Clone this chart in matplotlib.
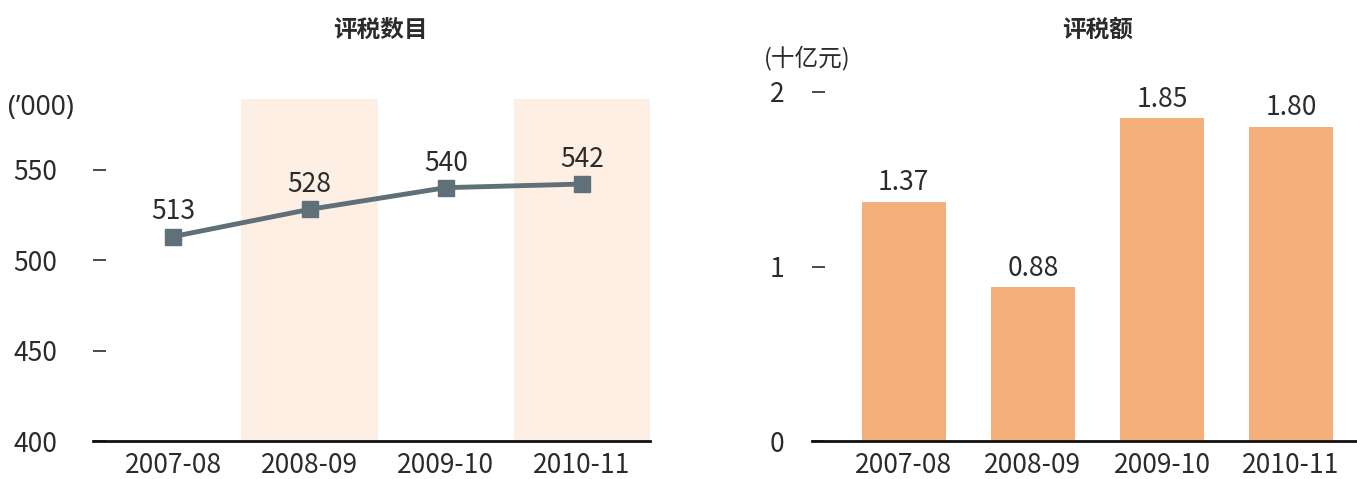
import matplotlib
matplotlib.use("Agg")
import matplotlib.pyplot as plt

plt.rcParams['font.family'] = ['Noto Sans CJK SC', 'DejaVu Sans']

# dados
anos = ["2007-08", "2008-09", "2009-10", "2010-11"]
numero = [513, 528, 540, 542]
valor = [1.37, 0.88, 1.85, 1.80]
rotulos_valor = ["1.37", "0.88", "1.85", "1.80"]
ticks_esq = [400, 450, 500, 550]
ticks_dir = [0, 1, 2]

cor_linha = "#5f7079"
cor_faixa = "#fdefe3"
cor_barra = "#f4af7b"
cor_texto = "#2b2b2b"

fig = plt.figure(figsize=(13.57, 4.79), dpi=100)
W, H = 1357, 479

# painel esquerdo
ax1 = fig.add_axes([93 / W, 38 / H, 557 / W, 342 / H])
x = list(range(len(anos)))
for i in (1, 3):
    ax1.axvspan(i - 0.5, i + 0.5, color=cor_faixa, lw=0, zorder=0)
ax1.plot(x, numero, color=cor_linha, lw=3.5, marker="s", markersize=12, zorder=3)
for xi, v in zip(x, numero):
    ax1.annotate(str(v), (xi, v), xytext=(0, 8), textcoords="offset points",
                 ha="center", va="bottom", fontsize=19, color=cor_texto)
ax1.set_xlim(-0.59, 3.5)
ax1.set_ylim(400, 589)
ax1.set_yticks(ticks_esq)
ax1.set_xticks(x)
ax1.set_xticklabels(anos)

# painel direito
ax2 = fig.add_axes([812 / W, 38 / H, 545 / W, 349 / H])
ax2.bar(x, valor, width=0.65, color=cor_barra, zorder=2)
for xi, v, r in zip(x, valor, rotulos_valor):
    ax2.annotate(r, (xi, v), xytext=(0, 4), textcoords="offset points",
                 ha="center", va="bottom", fontsize=19, color=cor_texto)
ax2.set_xlim(-0.71, 3.51)
ax2.set_ylim(0, 2.0)
ax2.set_yticks(ticks_dir)
ax2.set_xticks(x)
ax2.set_xticklabels(anos)

# titulos e unidades
fig.text(380 / W, 1 - 30 / H, "评税数目", fontsize=17, fontweight="bold",
         ha="center", va="center", color=cor_texto)
fig.text(1098 / W, 1 - 30 / H, "评税额", fontsize=17, fontweight="bold",
         ha="center", va="center", color=cor_texto)
fig.text(8 / W, 1 - 108 / H, "(’000)", fontsize=19, family=["Noto Sans", "DejaVu Sans"],
         ha="left", va="center", color=cor_texto)
fig.text(764 / W, 1 - 58 / H, "(十亿元)", fontsize=17,
         ha="left", va="center", color=cor_texto)

for ax, pad in ((ax1, 26), (ax2, 20)):
    for s in ("top", "right", "left"):
        ax.spines[s].set_visible(False)
    ax.spines["bottom"].set_linewidth(2)
    ax.spines["bottom"].set_color("#111111")
    ax.tick_params(axis="y", direction="in", length=9, width=1.2, pad=pad,
                   labelsize=19, colors=cor_texto)
    ax.tick_params(axis="x", length=0, pad=8, labelsize=19, colors=cor_texto)

fig.savefig("out.png", dpi=100)
